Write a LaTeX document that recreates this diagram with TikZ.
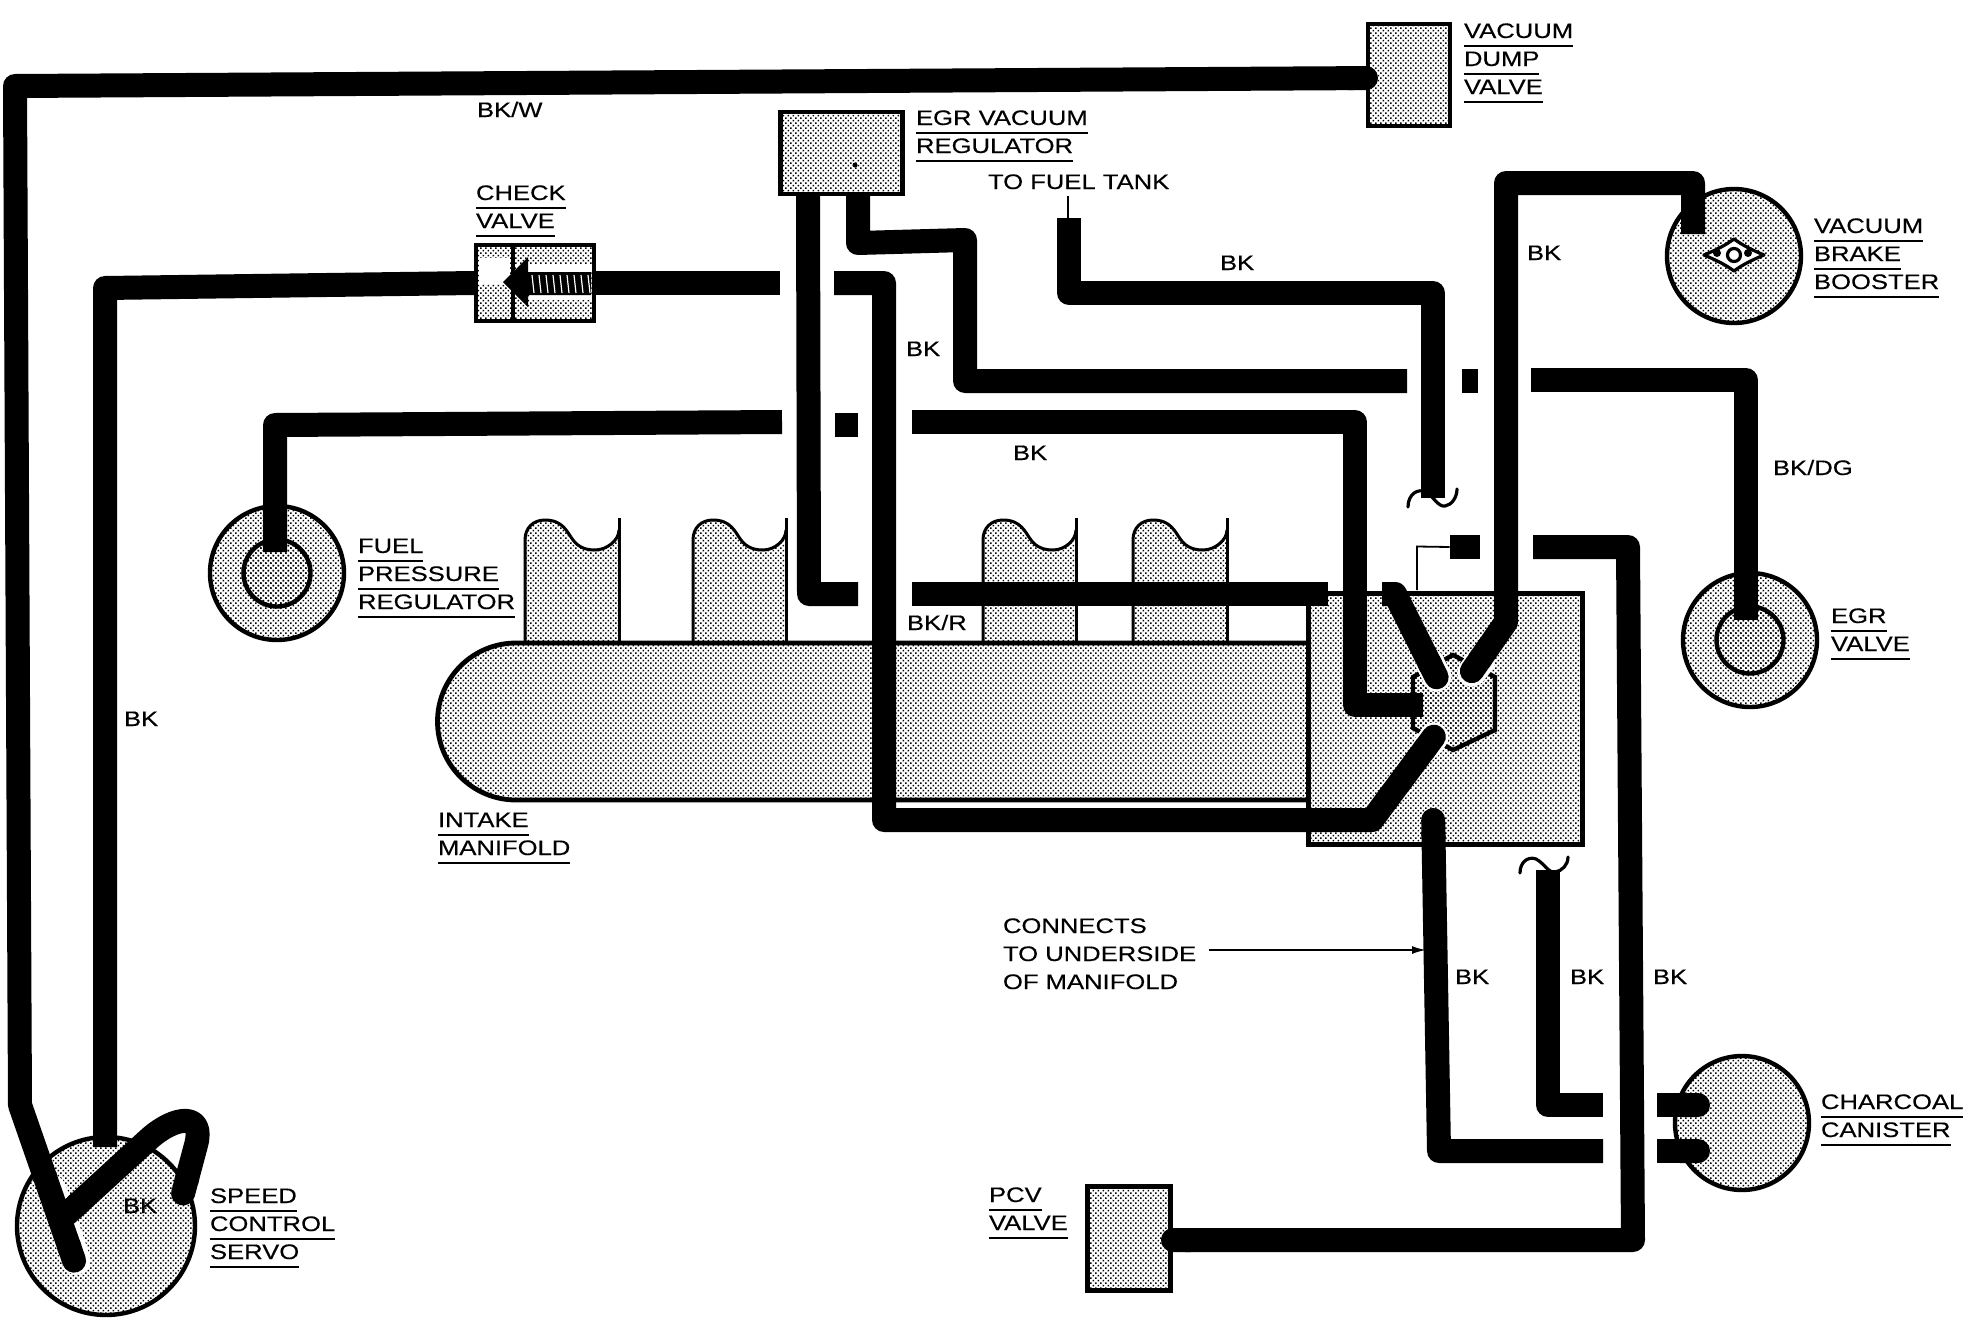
\documentclass[tikz,border=0pt]{standalone}
\usepackage{fontspec}
\usetikzlibrary{patterns,arrows.meta}
\newfontfamily\labf[FakeStretch=1.22,FakeBold=0.35]{Liberation Sans}
\newsavebox{\ulbox}
\newcommand{\ul}[1]{\sbox{\ulbox}{#1}\leavevmode\rlap{\rule[-4.5pt]{\wd\ulbox}{1pt}}\usebox{\ulbox}}
\pgfdeclarepatternformonly{stip}{\pgfqpoint{-0.5pt}{-0.5pt}}{\pgfqpoint{3pt}{3pt}}{\pgfqpoint{2.5pt}{2.5pt}}{
  \pgfpathrectangle{\pgfqpoint{0pt}{0pt}}{\pgfqpoint{0.75pt}{0.75pt}}
  \pgfpathrectangle{\pgfqpoint{1.25pt}{1.25pt}}{\pgfqpoint{0.75pt}{0.75pt}}
  \pgfusepath{fill}}
\tikzset{
  wire/.style={line width=12pt,line join=round,draw=black},
  halo/.style={line width=14.5pt,draw=white,line cap=round},
  stipple/.style={pattern=stip,pattern color=black},
  part/.style={stipple,draw=black,line width=2.2pt,inner sep=0pt,outer sep=0pt},
  boxpart/.style={part,rectangle},
  roundpart/.style={part,circle},
  edge line/.style={draw=black,line width=1.5pt},
  thin line/.style={draw=black,line width=0.9pt},
  tag/.style={font=\labf\fontsize{10.5pt}{14pt}\selectfont,align=left,inner sep=0pt,outer sep=0pt,anchor=base west,text=black},
  squig/.style={draw=black,line width=1.6pt,line cap=round},
}
\begin{document}
\begin{tikzpicture}[x=0.5pt,y=-0.5pt]
\useasboundingbox[fill=white] (0,0) rectangle (1978,1344);

% intake manifold runners
\foreach \rx/\rw in {525/94,693/93,983/93,1133/94}{
  \begin{scope}[shift={(\rx,0)}]
  \path[stipple] (0,645) -- (0,540) .. controls (0,528) and (8,520) .. (20,520) .. controls (38,520) and (42,532) .. (48,540) .. controls (54,548) and (62,550) .. (70,550) .. controls (82,550) and (\rw,540) .. (\rw,530) -- (\rw,645) -- cycle;
  \draw[edge line] (0,645) -- (0,540) .. controls (0,528) and (8,520) .. (20,520) .. controls (38,520) and (42,532) .. (48,540) .. controls (54,548) and (62,550) .. (70,550) .. controls (82,550) and (\rw,540) .. (\rw,530);
  \draw[edge line] (\rw,518) -- (\rw,645);
  \end{scope}
}
% manifold body and block
\path[stipple] (1310,643) -- (516,643) arc[start angle=-90,end angle=-270,radius=78.5] -- (1310,800) -- cycle;
\draw[draw=black,line width=2.4pt] (1308,643) -- (516,643) arc[start angle=-90,end angle=-270,radius=78.5] -- (1308,800);
\node[boxpart,minimum width=137pt,minimum height=125.5pt] (block) at (1445.5,719) {};
\draw[part] (1453,655) -- (1495,677) -- (1495,730) -- (1453,750) -- (1413,728) -- (1413,677) -- cycle;
% clear rings round the wire ends at the hub
\draw[halo] (1430,663) -- (1437,677);
\draw[halo] (1480,662) -- (1472,672);
\draw[halo] (1428,745) -- (1434,737);

% round parts
\node[roundpart,minimum size=67pt] (booster) at (1734,256) {};
\node[roundpart,minimum size=67pt] (fuelreg) at (277,573) {};
\node[roundpart,minimum size=33.5pt] (fuelin) at (277,573) {};
\node[roundpart,minimum size=67pt] (egrvalve) at (1750,640) {};
\node[roundpart,minimum size=33.5pt] (egrin) at (1750,640) {};
\node[roundpart,minimum size=67pt] (canister) at (1742,1123) {};
\node[roundpart,minimum size=89pt] (servo) at (106,1226) {};
\draw[halo] (52,1190) -- (76,1260);
% boxes
\node[boxpart,minimum width=41pt,minimum height=51pt] (dump) at (1409,75) {};
\node[boxpart,minimum width=61pt,minimum height=41pt] (egrreg) at (841.5,153) {};
\fill (855,165) circle[radius=2.5];
\node[boxpart,minimum width=41.5pt,minimum height=52pt] (pcv) at (1129,1238.5) {};
\node[boxpart,minimum width=59pt,minimum height=38pt] (check) at (535,283) {};
\fill[white] (479,258) rectangle (510,284);
\fill[white] (516,264) rectangle (592,272);
\fill[white] (530,295) rectangle (592,300);
\draw[draw=black,line width=1.6pt] (513,245) -- (513,321);

% booster emblem
\draw[draw=black,line width=1.6pt,fill=white,line join=round] (1704,255) .. controls (1716,250) and (1726,245) .. (1734,239) .. controls (1742,245) and (1752,250) .. (1764,255) .. controls (1752,260) and (1742,265) .. (1734,271) .. controls (1726,265) and (1716,260) .. cycle;
\draw[draw=black,line width=1.6pt] (1734,255) circle[radius=6.5];
\fill (1717,253) circle[radius=4];
\fill (1748,253) circle[radius=4];

% coordinates for free wire ends
\coordinate (dumpport) at (1378,78);
\coordinate (servoA) at (78,1272);
\coordinate (servoB) at (105,1147);
\coordinate (servoC) at (58,1222);
\coordinate (servoD) at (180,1205);
\coordinate (checkL) at (474,283);
\coordinate (checkR) at (593,283);

% wires
\draw[wire,{Round Cap}-{Round Cap}] (dumpport) -- (15,86) -- (20,1105) -- (servoA);
\draw[wire] (checkL) -- (105,288) -- (servoB);
\draw[wire,{Round Cap}-{Round Cap}] (servoC) -- (150,1138) .. controls (175,1116) and (205,1112) .. (196,1145) -- (servoD);
\draw[wire] (checkR) -- (780,283);
\draw[wire,-{Round Cap}] (834,283) -- (884,283) -- (884,820) -- (1372,820) -- (1441,727);
\draw[wire] (808,194) -- (809,594) -- (858,594);
\draw[wire] (858,194) -- (858,243) -- (965,240) -- (965,381) -- (1407,381);
\draw[wire] (1462,381) -- (1478,381);
\draw[wire] (1531,380) -- (1746,380) -- (1746,620);
\draw[wire] (275,552) -- (275,425) -- (782,422);
\draw[wire] (835,425) -- (858,425);
\draw[wire] (912,422) -- (1355,422) -- (1355,705) -- (1423,705);
\draw[wire] (912,594) -- (1328,594);
\draw[wire,-{Round Cap}] (1382,594) -- (1395,594) -- (1442,688);
\draw[wire,-{Round Cap}] (1693,234) -- (1693,183) -- (1506,183) -- (1506,622) -- (1465,681);
\draw[wire] (1069,218) -- (1069,293) -- (1433,293) -- (1433,498);
\draw[wire,-{Round Cap}] (1533,547) -- (1628,547) -- (1633,1240) -- (1161,1240);
\draw[wire,{Round Cap}-] (1433,808) -- (1439,1151) -- (1603,1151);
\draw[wire] (1548,870) -- (1548,1105) -- (1603,1105);
\draw[wire,-{Round Cap}] (1657,1105) -- (1710,1105);
\draw[wire,-{Round Cap}] (1657,1151) -- (1710,1151);
\node[fill=black,minimum width=15pt,minimum height=12pt,inner sep=0pt] (sensor) at (1465,547) {};
\draw[thin line] (sensor.west) -- (1417,546.5) -- (1417,590);
\draw[thin line] (1068,196) -- (1068,220);

% squiggles
\draw[squig] (1408,507) .. controls (1408,494) and (1418,488) .. (1426,492) .. controls (1434,497) and (1438,507) .. (1445,506) .. controls (1452,505) and (1457,497) .. (1457,489);
\draw[squig] (1520,873) .. controls (1520,862) and (1528,856) .. (1536,859) .. controls (1544,863) and (1548,873) .. (1555,872) .. controls (1562,871) and (1568,865) .. (1568,857);

% check valve arrow and spring
\fill (503,282) -- (528,257) -- (528,272) -- (591,272) -- (591,295) -- (528,295) -- (528,307) -- cycle;
\foreach \sx in {532,539,...,588}{\draw[white,line width=0.6pt] (\sx,275) -- (\sx+2,293);}

% arrow to wire
\coordinate (undertip) at (1426,950);
\node[tag] (connects) at (1003,989) {CONNECTS\\TO UNDERSIDE\\OF MANIFOLD};
\draw[thin line,-{Latex[length=7pt,width=4pt]}] (1209,950) -- (undertip);

% labels (each anchored on the baseline of its last line)
\node[tag] (ldump) at (1464,94) {\ul{VACUUM}\\\ul{DUMP}\\\ul{VALVE}};
\node[tag] (lbkw) at (477,117) {BK/W};
\node[tag] (legr) at (916,153) {\ul{EGR VACUUM}\\\ul{REGULATOR}};
\node[tag] (lfuel) at (988,189) {TO FUEL TANK};
\node[tag] (lcheck) at (476,228) {\ul{CHECK}\\\ul{VALVE}};
\node[tag] (lbrake) at (1814,289) {\ul{VACUUM}\\\ul{BRAKE}\\\ul{BOOSTER}};
\node[tag] (lfp) at (358,609) {\ul{FUEL}\\\ul{PRESSURE}\\\ul{REGULATOR}};
\node[tag] (legrv) at (1831,651) {\ul{EGR}\\\ul{VALVE}};
\node[tag] (lint) at (438,855) {\ul{INTAKE}\\\ul{MANIFOLD}};
\node[tag] (lchar) at (1821,1137) {\ul{CHARCOAL}\\\ul{CANISTER}};
\node[tag] (lpcv) at (989,1230) {\ul{PCV}\\\ul{VALVE}};
\node[tag] (lservo) at (210,1259) {\ul{SPEED}\\\ul{CONTROL}\\\ul{SERVO}};
\node[tag] (bk1) at (1527,260) {BK};
\node[tag] (bk2) at (1220,270) {BK};
\node[tag] (bk3) at (906,356) {BK};
\node[tag] (bk4) at (1013,460) {BK};
\node[tag] (bkdg) at (1773,475) {BK/DG};
\node[tag] (bkr) at (907,630) {BK/R};
\node[tag] (bk5) at (124,726) {BK};
\node[tag] (bk6) at (1455,984) {BK};
\node[tag] (bk7) at (1570,984) {BK};
\node[tag] (bk8) at (1653,984) {BK};
\node[tag] (bk9) at (123,1213) {BK};
\end{tikzpicture}
\end{document}
